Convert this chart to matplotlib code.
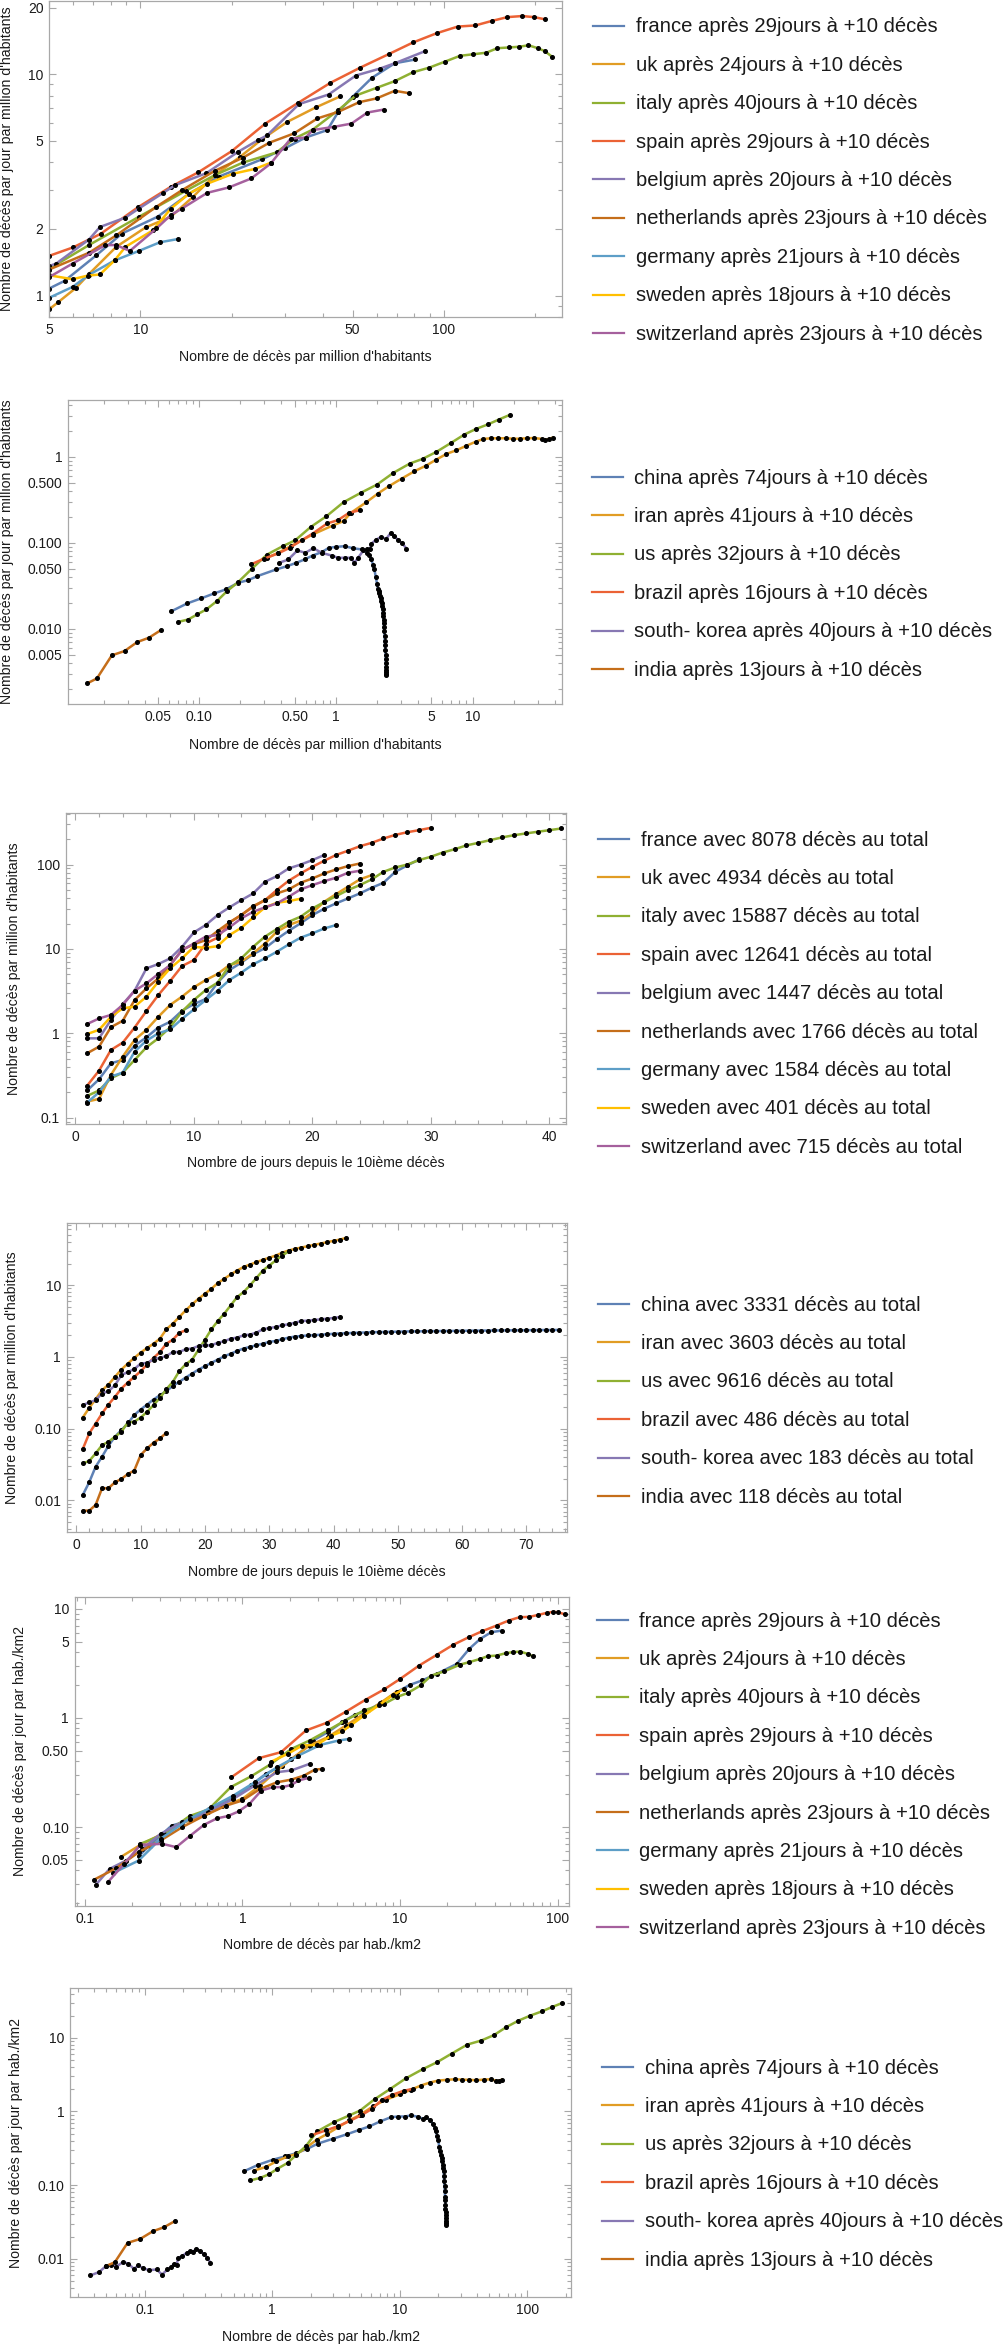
import numpy as np
import matplotlib
matplotlib.use("Agg")
import matplotlib.pyplot as plt
from matplotlib.lines import Line2D
from matplotlib.ticker import FixedLocator, FixedFormatter, LogLocator, NullFormatter, MultipleLocator

plt.rcParams['font.family'] = ['Liberation Sans', 'DejaVu Sans']

# ---------------------------------------------------------------
# data
# ---------------------------------------------------------------
europe = ['france', 'uk', 'italy', 'spain', 'belgium', 'netherlands', 'germany', 'sweden', 'switzerland']
europe_days = [29, 24, 40, 29, 20, 23, 21, 18, 23]
europe_totals = [8078, 4934, 15887, 12641, 1447, 1766, 1584, 401, 715]
europe_colors = ['#5E81B5', '#E19C24', '#8FB032', '#EB6235', '#8778B3', '#C56E1A', '#5D9EC7', '#FFBF00', '#A5609D']

world = ['china', 'iran', 'us', 'brazil', 'south- korea', 'india']
world_days = [74, 41, 32, 16, 40, 13]
world_totals = [3331, 3603, 9616, 486, 183, 118]
world_colors = ['#5E81B5', '#E19C24', '#8FB032', '#EB6235', '#8778B3', '#C56E1A']

# panel 1 : deaths per day per million vs deaths per million (europe)
a_france_x = [5, 5.63, 7.16, 8.69, 11.4, 14.5, 18.1, 25.1, 29.9, 35, 41.3, 44.9, 50, 57.9, 68.9, 80.6]
a_france_y = [1.075, 1.165, 1.52, 1.905, 2.27, 2.89, 3.44, 4.12, 4.62, 5.17, 5.59, 6.76, 7.9, 9.62, 11.2, 11.65]
a_uk_x = [5, 5.36, 6.15, 6.77, 8.33, 10.4, 12.6, 14.9, 17.6, 21.3, 25.1, 30.5, 37.8, 45.5]
a_uk_y = [0.865, 0.933, 1.086, 1.25, 1.66, 2.03, 2.27, 2.79, 3.5, 4.23, 5.07, 6.09, 7.07, 7.93]
a_italy_x = [5, 6.77, 9.9, 14.1, 17.6, 21.8, 28.1, 32.2, 37, 44.9, 51.3, 60, 68.9, 79.1, 89.5, 101, 113,
             125, 138, 150, 164, 177, 190, 204, 215, 227]
a_italy_y = [1.32, 1.69, 2.27, 2.97, 3.5, 3.99, 4.43, 5.12, 5.62, 6.88, 8.01, 8.67, 9.3, 10.2, 10.7, 11.4, 12.1,
             12.3, 12.5, 13.1, 13.2, 13.3, 13.5, 13.1, 12.7, 12.0]
a_spain_x = [5, 6.0, 7.4, 9.8, 12.6, 15.5, 20, 25.8, 33.1, 42.3, 53, 65.7, 79.1, 94.6, 111, 127, 144, 162, 181, 198, 215]
a_spain_y = [1.51, 1.65, 1.9, 2.5, 3.1, 3.6, 4.49, 5.98, 7.42, 9.14, 10.7, 12.3, 13.9, 15.3, 16.4, 16.6, 17.4, 18.1,
             18.3, 18.1, 17.7]
a_belgium_x = [5, 5.28, 6.77, 7.36, 8.93, 9.88, 11.9, 13.0, 16.5, 21, 24.4, 26.2, 33.3, 41.7, 51.3, 61.6, 68.9, 86.7]
a_belgium_y = [1.357, 1.395, 1.79, 2.04, 2.25, 2.47, 2.91, 3.15, 3.57, 4.46, 5.03, 5.3, 7.32, 8.09, 9.86, 10.6, 11.2, 12.7]
a_netherlands_x = [5, 6.77, 8.33, 11.3, 13.7, 17.6, 21.8, 26.6, 32.1, 38.3, 44.9, 52.6, 60, 68.9, 76.9]
a_netherlands_y = [1.31, 1.56, 1.87, 2.52, 2.99, 3.66, 4.2, 4.9, 5.4, 6.31, 6.76, 7.47, 7.77, 8.41, 8.2]
a_germany_x = [5, 5.98, 6.77, 8.22, 9.88, 11.6, 13.3]
a_germany_y = [0.976, 1.094, 1.24, 1.44, 1.59, 1.74, 1.8]
a_sweden_x = [5, 5.98, 6.7, 7.36, 8.22, 8.93, 11, 12.6, 14.5, 16.6, 20.2, 23.8, 26.9]
a_sweden_y = [1.235, 1.185, 1.23, 1.245, 1.44, 1.66, 1.97, 2.47, 2.89, 3.2, 3.55, 3.73, 3.98]
a_switzerland_x = [5, 5.98, 7.67, 8.33, 9.23, 11.3, 12.6, 13.7, 16.6, 19.6, 23.2, 26.9, 31.3, 35, 37, 43.4, 49.6, 56, 63.4]
a_switzerland_y = [1.21, 1.395, 1.69, 1.69, 1.59, 2.01, 2.31, 2.47, 2.91, 3.08, 3.38, 3.95, 5.12, 5.17, 5.59, 5.78,
                   5.98, 6.71, 6.92]

# panel 2 : same for the world
b_china_x = [0.0628, 0.0817, 0.103, 0.129, 0.157, 0.193, 0.229, 0.267, 0.366, 0.44, 0.513, 0.59, 0.676, 0.787, 0.89,
             1.006, 1.158, 1.325, 1.545, 1.69, 1.76, 1.82, 1.87, 1.91, 1.96, 2.0, 2.03, 2.06, 2.08, 2.1, 2.12, 2.14,
             2.16, 2.18, 2.2, 2.21, 2.22, 2.23, 2.24, 2.25, 2.26, 2.27, 2.28, 2.29, 2.3, 2.31, 2.315, 2.32, 2.325,
             2.33, 2.333, 2.336, 2.34]
b_china_y = [0.016, 0.0197, 0.0225, 0.0258, 0.0287, 0.0343, 0.0368, 0.041, 0.049, 0.0535, 0.0585, 0.064, 0.0712,
             0.0779, 0.0875, 0.0898, 0.0914, 0.0867, 0.0837, 0.0765, 0.072, 0.064, 0.055, 0.049, 0.04, 0.033, 0.0292,
             0.0275, 0.0262, 0.024, 0.0229, 0.021, 0.02, 0.0185, 0.017, 0.0153, 0.014, 0.0128, 0.0117, 0.0105,
             0.0095, 0.0082, 0.0072, 0.0064, 0.0057, 0.005, 0.0045, 0.004, 0.0036, 0.0033, 0.0031, 0.003, 0.0029]
b_iran_x = [0.314, 0.378, 0.468, 0.676, 0.946, 1.137, 1.285, 1.67, 2.03, 2.44, 3.03, 3.75, 4.57, 5.42, 6.43, 7.59,
            9.01, 10.6, 12, 13.6, 15.4, 17.4, 19.6, 22.2, 25.1, 28.3, 32, 34, 36.2, 38.5]
b_iran_y = [0.067, 0.0765, 0.0914, 0.125, 0.159, 0.179, 0.223, 0.297, 0.375, 0.456, 0.56, 0.681, 0.793, 0.931,
            1.083, 1.195, 1.35, 1.51, 1.62, 1.65, 1.65, 1.65, 1.63, 1.63, 1.65, 1.66, 1.62, 1.58, 1.62, 1.68]
b_us_x = [0.0701, 0.0832, 0.097, 0.113, 0.135, 0.16, 0.193, 0.243, 0.314, 0.409, 0.504, 0.655, 0.853, 1.137, 1.517,
          2.0, 2.63, 3.47, 4.3, 5.42, 6.92, 8.68, 10.6, 13, 15.5, 18.8]
b_us_y = [0.012, 0.0128, 0.0147, 0.0168, 0.021, 0.0274, 0.0349, 0.0499, 0.0731, 0.0914, 0.107, 0.153, 0.204, 0.297,
          0.381, 0.477, 0.652, 0.837, 0.948, 1.143, 1.45, 1.82, 2.12, 2.4, 2.72, 3.1]
b_brazil_x = [0.239, 0.296, 0.378, 0.459, 0.562, 0.676, 0.863, 1.037, 1.246, 1.5]
b_brazil_y = [0.056, 0.0652, 0.0752, 0.0875, 0.107, 0.128, 0.168, 0.184, 0.223, 0.24]
b_korea_x = [0.385, 0.449, 0.523, 0.598, 0.684, 0.787, 0.929, 1.037, 1.17, 1.285, 1.367, 1.452, 1.59, 1.69, 1.78,
             1.82, 1.97, 2.14, 2.33, 2.52, 2.68, 2.85, 3.03, 3.28]
b_korea_y = [0.0585, 0.064, 0.0815, 0.0765, 0.0867, 0.0765, 0.0712, 0.067, 0.067, 0.067, 0.0585, 0.067, 0.0815,
             0.0851, 0.0837, 0.0982, 0.109, 0.117, 0.111, 0.131, 0.12, 0.107, 0.1, 0.0859]
b_india_x = [0.0152, 0.0179, 0.023, 0.0285, 0.0353, 0.043, 0.0526]
b_india_y = [0.00231, 0.00264, 0.0049, 0.0055, 0.007, 0.00786, 0.00965]

# panel 3 : cumulative deaths per million, one value per day since the 10th death
c_france = [0.21, 0.285, 0.441, 0.483, 0.714, 0.897, 1.17, 1.37, 1.85, 2.22, 2.55, 3.98, 5.62, 6.87, 8.7, 10.2, 13.1,
            16.4, 20.1, 25.2, 30, 34.7, 39.7, 45.5, 53.1, 60.9, 82.2, 97.6, 115]
c_uk = [0.155, 0.167, 0.321, 0.53, 0.834, 1.1, 1.57, 2.17, 2.72, 3.51, 4.28, 5.05, 6.44, 7.06, 8.86, 11.6, 16, 19.2,
        21.6, 26.9, 36.3, 44.7, 54.6, 66.7, 75]
c_italy = [0.181, 0.21, 0.293, 0.342, 0.483, 0.683, 0.872, 1.18, 1.81, 2.48, 3.26, 3.98, 6.33, 7.73, 10.6, 14, 17.2,
           21, 24.1, 30.2, 35.9, 42.3, 49.9, 57.1, 66.7, 82.2, 92.5, 100, 113, 124, 139, 152, 169, 181, 195, 210,
           223, 234, 245, 256, 268]
c_spain = [0.24, 0.361, 0.635, 0.775, 1.17, 1.84, 2.84, 4.17, 6.27, 7.38, 11.6, 13.6, 20.6, 25.2, 31.6, 37.9, 49.9,
           64.3, 78.5, 94.2, 111, 130, 146, 165, 181, 204, 225, 242, 256, 273]
c_belgium = [0.872, 0.872, 1.44, 2.22, 3.2, 5.89, 6.62, 7.73, 10.6, 15.7, 19.2, 25.2, 31.1, 37.9, 45.5, 62.5, 73, 90,
             100, 113, 130]
c_netherlands = [0.58, 0.695, 1.18, 1.41, 2.48, 3.41, 4.48, 6.44, 9.7, 11.4, 12.7, 16.3, 20.6, 25.2, 32.2, 37.9,
                 45.5, 50.7, 60.9, 68.5, 78.5, 87.6, 95.9, 103]
c_germany = [0.151, 0.2, 0.307, 0.342, 0.607, 0.819, 1.0, 1.11, 1.48, 1.92, 2.48, 3.2, 4.28, 5.23, 6.56, 7.73, 9.27,
             11.3, 13.6, 15.3, 17.5, 19.2]
c_sweden = [0.98, 1.1, 1.57, 1.98, 2.07, 2.72, 4.09, 5.89, 7.73, 10.6, 10.3, 10.8, 14.6, 17.8, 23.6, 31.1, 35.3,
            36.9, 39.4]
c_switzerland = [1.29, 1.5, 1.65, 2.17, 3.2, 3.91, 5.05, 6.44, 9.7, 11.6, 14, 14.6, 18, 23, 27.6, 31.1, 34.7, 41.6,
                 50.7, 57.1, 63.7, 69.8, 80, 84.5]

# panel 4 : cumulative deaths per million, world
d_china = [0.0119, 0.0179, 0.0295, 0.0407, 0.0578, 0.0771, 0.0955, 0.118, 0.155, 0.185, 0.217, 0.255, 0.293, 0.333,
           0.395, 0.449, 0.516, 0.586, 0.667, 0.742, 0.826, 0.918, 1.02, 1.11, 1.21, 1.31, 1.38, 1.45, 1.53, 1.62,
           1.67, 1.76, 1.86, 1.92, 1.96, 1.99, 2.01, 2.04, 2.07, 2.1, 2.12, 2.14, 2.16, 2.18, 2.19, 2.21, 2.22, 2.23,
           2.24, 2.25, 2.26, 2.27, 2.27, 2.28, 2.29, 2.29, 2.3, 2.3, 2.31, 2.31, 2.32, 2.32, 2.33, 2.33, 2.34, 2.34,
           2.35, 2.35, 2.35, 2.36, 2.36, 2.37, 2.37, 2.37, 2.38]
d_iran = [0.143, 0.195, 0.258, 0.344, 0.412, 0.527, 0.667, 0.808, 0.969, 1.15, 1.33, 1.53, 1.8, 2.43, 2.91, 3.6, 4.46,
          5.4, 6.47, 7.6, 8.92, 10.7, 12.3, 14.1, 16.0, 17.9, 19.4, 20.9, 22.6, 24.1, 25.9, 28.3, 30.4, 32.1, 33.5,
          35, 36.5, 38.1, 39.8, 41.5, 43.3, 45.7]
d_us = [0.0328, 0.0354, 0.0453, 0.059, 0.0657, 0.0771, 0.0906, 0.122, 0.125, 0.143, 0.172, 0.213, 0.269, 0.355,
        0.449, 0.632, 0.791, 0.918, 1.26, 1.74, 2.43, 3.17, 4.01, 5.23, 6.83, 8.02, 9.93, 12.6, 16, 18.8, 22.1, 25.9,
        29.5]
d_brazil = [0.052, 0.0859, 0.118, 0.163, 0.217, 0.278, 0.363, 0.44, 0.527, 0.632, 0.782, 0.969, 1.17, 1.53, 1.74,
            2.16, 2.35]
d_korea = [0.213, 0.232, 0.25, 0.309, 0.333, 0.404, 0.556, 0.618, 0.674, 0.808, 0.825, 0.918, 0.969, 1.03, 1.17,
           1.17, 1.28, 1.31, 1.42, 1.45, 1.45, 1.58, 1.65, 1.8, 1.86, 2.0, 2.05, 2.18, 2.43, 2.53, 2.61, 2.76, 2.85,
           3.0, 3.17, 3.2, 3.27, 3.34, 3.41, 3.49, 3.6]
d_india = [0.0072, 0.0072, 0.00865, 0.0148, 0.0148, 0.0179, 0.0199, 0.0233, 0.026, 0.0429, 0.0531, 0.0637, 0.0732,
           0.0877]

# panel 5 : deaths per day per hab./km2 vs deaths per hab./km2 (europe)
e_france_x = [0.22, 0.258, 0.356, 0.463, 0.637, 0.876, 1.14, 1.41, 1.79, 2.22, 2.81, 3.48, 4.3, 5.18, 6.24, 7.71,
              9.53, 11.5, 13.8, 17.1, 22.9, 27.5, 32.3, 37.9, 44.4]
e_france_y = [0.054, 0.0677, 0.103, 0.115, 0.147, 0.184, 0.243, 0.307, 0.366, 0.452, 0.62, 0.739, 0.913, 1.07, 1.17,
              1.39, 1.72, 2.0, 2.2, 2.53, 3.12, 4.29, 5.29, 6.09, 6.31]
e_uk_x = [0.169, 0.226, 0.311, 0.417, 0.573, 0.747, 1.0, 1.3, 1.66, 2.05, 2.67, 3.48, 4.54, 5.91, 7.51, 9.53]
e_uk_y = [0.053, 0.0687, 0.0866, 0.109, 0.127, 0.155, 0.181, 0.24, 0.33, 0.421, 0.558, 0.665, 0.851, 1.09, 1.37, 1.74]
e_italy_x = [0.226, 0.32, 0.463, 0.611, 0.844, 1.14, 1.49, 2.05, 2.67, 3.48, 4.49, 5.91, 7.92, 9.53, 11.2, 13.5,
             15.8, 19, 24.1, 27.5, 32.3, 35.9, 41, 46.8, 52.1, 57.9, 64.4, 69.7]
e_italy_y = [0.0701, 0.0866, 0.126, 0.145, 0.232, 0.292, 0.371, 0.52, 0.62, 0.766, 0.945, 1.17, 1.34, 1.55, 1.69,
             1.98, 2.44, 2.66, 3.08, 3.24, 3.47, 3.67, 3.72, 3.91, 4.0, 4.05, 3.86, 3.67]
e_spain_x = [0.853, 1.27, 1.76, 2.53, 3.42, 4.54, 6.07, 7.92, 10.05, 13.2, 17.1, 21.7, 27.3, 33.2, 41, 48.9, 57.3,
             66.1, 75.5, 85.3, 93.3, 100, 111]
e_spain_y = [0.286, 0.427, 0.485, 0.766, 0.9, 1.14, 1.47, 1.82, 2.28, 3.01, 3.78, 4.66, 5.48, 6.22, 7.01, 7.79, 8.36,
             8.42, 8.78, 9.16, 9.35, 9.28, 8.9]
e_belgium_x = [0.118, 0.144, 0.183, 0.232, 0.303, 0.417, 0.604, 0.876, 1.2, 1.66, 2.05, 2.67]
e_belgium_y = [0.0297, 0.0414, 0.0493, 0.063, 0.0866, 0.111, 0.137, 0.181, 0.24, 0.318, 0.33, 0.379]
e_netherlands_x = [0.115, 0.159, 0.22, 0.303, 0.417, 0.573, 0.788, 1.0, 1.3, 1.66, 2.05, 2.46, 2.89, 3.21]
e_netherlands_y = [0.033, 0.042, 0.0588, 0.0752, 0.1, 0.127, 0.157, 0.175, 0.224, 0.257, 0.272, 0.296, 0.336, 0.34]
e_germany_x = [0.152, 0.22, 0.303, 0.463, 0.637, 0.876, 1.2, 1.66, 2.27, 3.13, 4.08, 4.78]
e_germany_y = [0.038, 0.0493, 0.078, 0.119, 0.152, 0.194, 0.257, 0.353, 0.452, 0.566, 0.62, 0.642]
e_sweden_x = [1.53, 1.94, 2.4, 2.97, 3.67, 4.3, 4.91, 5.91, 7.31, 9.04, 10.6]
e_sweden_y = [0.398, 0.468, 0.558, 0.566, 0.689, 0.75, 0.863, 1.05, 1.3, 1.62, 1.84]
e_switzerland_x = [0.1405, 0.178, 0.226, 0.311, 0.381, 0.463, 0.573, 0.69, 0.809, 0.948, 1.11, 1.32, 1.57, 1.79,
                   2.05, 2.27, 2.64]
e_switzerland_y = [0.0313, 0.046, 0.0687, 0.0701, 0.0654, 0.0824, 0.105, 0.12, 0.126, 0.139, 0.163, 0.216, 0.232,
                   0.232, 0.243, 0.267, 0.282]

# panel 6 : same for the world
f_china_x = [0.6, 0.779, 1.01, 1.26, 1.55, 1.89, 2.27, 2.99, 3.89, 4.83, 5.76, 7.02, 8.55, 9.75, 10.9, 12.3, 14,
             15.1, 16.1, 17.2, 18.2, 18.8, 19.2, 19.6, 20.0, 20.4, 20.7, 21.0, 21.3, 21.5, 21.7, 21.9, 22.1, 22.2,
             22.3, 22.45, 22.55, 22.65, 22.72, 22.78, 22.83, 22.88, 22.92, 22.96, 22.98, 23.0, 23.02]
f_china_y = [0.154, 0.189, 0.221, 0.245, 0.272, 0.312, 0.365, 0.426, 0.493, 0.564, 0.626, 0.732, 0.838, 0.855, 0.855,
             0.883, 0.847, 0.795, 0.829, 0.771, 0.673, 0.6, 0.536, 0.47, 0.413, 0.33, 0.287, 0.26, 0.233, 0.21, 0.189,
             0.17, 0.154, 0.135, 0.112, 0.097, 0.082, 0.07, 0.062, 0.054, 0.048, 0.043, 0.039, 0.0358, 0.033, 0.031,
             0.0291]
f_iran_x = [0.716, 0.889, 1.08, 1.32, 1.55, 1.83, 2.23, 2.71, 3.3, 4.02, 4.89, 6.15, 7.74, 10.1, 12.2, 14.6, 17.2, 20,
            23.3, 26.9, 30.7, 35, 39.9, 45.5, 51.9, 57.3, 59.9, 63.1]
f_iran_y = [0.157, 0.176, 0.21, 0.245, 0.264, 0.318, 0.413, 0.498, 0.613, 0.755, 0.901, 1.17, 1.44, 1.72, 1.97, 2.25,
            2.47, 2.63, 2.69, 2.74, 2.71, 2.69, 2.66, 2.71, 2.74, 2.6, 2.6, 2.71]
f_us_x = [0.675, 0.805, 0.949, 1.1, 1.32, 1.55, 1.83, 2.25, 3.05, 4.02, 4.89, 6.36, 8.37, 11.2, 15.1, 19.6, 25.5,
          33.9, 43.5, 54.7, 68.4, 84.9, 105, 130, 156, 187]
f_us_y = [0.116, 0.125, 0.141, 0.167, 0.2, 0.259, 0.336, 0.536, 0.717, 0.883, 1.03, 1.47, 2.01, 2.83, 3.75, 4.67,
          6.11, 8.12, 9.2, 10.9, 14, 17.1, 20, 22.9, 26.2, 29.7]
f_brazil_x = [2.02, 2.62, 3.3, 4.07, 5.05, 6.03, 7.25, 8.71, 10.7, 12.7]
f_brazil_y = [0.473, 0.552, 0.633, 0.747, 0.901, 1.08, 1.44, 1.68, 1.91, 2.03]
f_korea_x = [0.0376, 0.044, 0.0496, 0.0547, 0.0596, 0.0675, 0.0744, 0.0822, 0.0895, 0.0975, 0.109, 0.124, 0.137,
             0.151, 0.161, 0.17, 0.178, 0.184, 0.196, 0.213, 0.227, 0.239, 0.255, 0.273, 0.291, 0.311, 0.328]
f_korea_y = [0.00594, 0.00659, 0.00792, 0.00834, 0.00776, 0.00897, 0.00861, 0.0073, 0.00809, 0.00737, 0.007,
             0.00714, 0.0061, 0.00714, 0.00768, 0.00852, 0.00834, 0.0103, 0.0108, 0.012, 0.0126, 0.0124, 0.0137,
             0.0126, 0.0116, 0.0103, 0.0088]
f_india_x = [0.0496, 0.0584, 0.0735, 0.0925, 0.116, 0.142, 0.172]
f_india_y = [0.00792, 0.00897, 0.0164, 0.0186, 0.0236, 0.0268, 0.0323]

# ---------------------------------------------------------------
# figure helpers
# ---------------------------------------------------------------
W, H = 1006, 2345
fig = plt.figure(figsize=(W / 100, H / 100), dpi=100)

FRAME = '#a8a8a8'
TXT = '#1a1a1a'


def make_axes(l, r, t, b):
    ax = fig.add_axes([l / W, 1 - b / H, (r - l) / W, (b - t) / H])
    for s in ax.spines.values():
        s.set_color(FRAME)
        s.set_linewidth(0.9)
    return ax


def finish(ax, box, xlab, ylab, xlab_y, ylab_x):
    l, r, t, b = box
    ax.tick_params(which='both', direction='in', top=True, right=True, color=FRAME,
                   labelsize=10, labelcolor=TXT, pad=4, width=0.8)
    ax.tick_params(which='major', length=5)
    ax.tick_params(which='minor', length=2.6)
    ax.set_xlabel(xlab, fontsize=10.2, color=TXT)
    ax.set_ylabel(ylab, fontsize=10.2, color=TXT)
    ax.xaxis.set_label_coords(0.5, (b - xlab_y) / (b - t))
    ax.xaxis.label.set_va('center')
    ax.yaxis.set_label_coords((ylab_x - l) / (r - l), 0.5)
    ax.yaxis.label.set_va('center')


def log_ticks(axis, values, labels):
    axis.set_major_locator(FixedLocator(values))
    axis.set_major_formatter(FixedFormatter(labels))
    axis.set_minor_locator(LogLocator(base=10, subs=np.arange(2, 10), numticks=50))
    axis.set_minor_formatter(NullFormatter())


def draw(ax, x, y, color):
    ax.plot(x, y, color=color, lw=1.8, solid_joinstyle='round', solid_capstyle='round')
    ax.plot(x, y, ls='none', marker='o', ms=2.6, color='black')


def legend(labels, colors, y0, xl, xt):
    for i, (lab, col) in enumerate(zip(labels, colors)):
        y = y0 + i * 38.4
        fig.add_artist(Line2D([xl / W, (xl + 31) / W], [1 - y / H, 1 - y / H], color=col, lw=1.6))
        fig.text(xt / W, 1 - (y + 6.6) / H, lab, fontsize=14.6, color=TXT, va='baseline', ha='left')


apres_eu = [f"{c} après {d}jours à +10 décès" for c, d in zip(europe, europe_days)]
apres_w = [f"{c} après {d}jours à +10 décès" for c, d in zip(world, world_days)]
total_eu = [f"{c} avec {n} décès au total" for c, n in zip(europe, europe_totals)]
total_w = [f"{c} avec {n} décès au total" for c, n in zip(world, world_totals)]

lab_rate_pm = "Nombre de décès par jour par million d'habitants"
lab_pm = "Nombre de décès par million d'habitants"
lab_days = "Nombre de jours depuis le 10ième décès"
lab_rate_km = "Nombre de décès par jour par hab./km2"
lab_km = "Nombre de décès par hab./km2"

# ---------------------------------------------------------------
# panel 1
# ---------------------------------------------------------------
box = (49, 562, 1, 317)
ax = make_axes(*box)
ax.set_xscale('log')
ax.set_yscale('log')
for x, y, col in zip([a_france_x, a_uk_x, a_italy_x, a_spain_x, a_belgium_x, a_netherlands_x, a_germany_x,
                      a_sweden_x, a_switzerland_x],
                     [a_france_y, a_uk_y, a_italy_y, a_spain_y, a_belgium_y, a_netherlands_y, a_germany_y,
                      a_sweden_y, a_switzerland_y], europe_colors):
    draw(ax, x, y, col)
ax.set_xlim(5, 245)
ax.set_ylim(0.8, 21.4)
log_ticks(ax.xaxis, [5, 10, 50, 100], ['5', '10', '50', '100'])
log_ticks(ax.yaxis, [1, 2, 5, 10, 20], ['1', '2', '5', '10', '20'])
finish(ax, box, lab_pm, lab_rate_pm, 357, 7)
legend(apres_eu, europe_colors, 25.7, 593, 636)

# ---------------------------------------------------------------
# panel 2
# ---------------------------------------------------------------
box = (68, 562, 400, 704)
ax = make_axes(*box)
ax.set_xscale('log')
ax.set_yscale('log')
for x, y, col in zip([b_china_x, b_iran_x, b_us_x, b_brazil_x, b_korea_x, b_india_x],
                     [b_china_y, b_iran_y, b_us_y, b_brazil_y, b_korea_y, b_india_y], world_colors):
    draw(ax, x, y, col)
ax.set_xlim(0.011, 45)
ax.set_ylim(0.00133, 4.6)
log_ticks(ax.xaxis, [0.05, 0.1, 0.5, 1, 5, 10], ['0.05', '0.10', '0.50', '1', '5', '10'])
log_ticks(ax.yaxis, [0.005, 0.01, 0.05, 0.1, 0.5, 1], ['0.005', '0.010', '0.050', '0.100', '0.500', '1'])
finish(ax, box, lab_pm, lab_rate_pm, 745, 7)
legend(apres_w, world_colors, 477, 592, 634)

# ---------------------------------------------------------------
# panel 3
# ---------------------------------------------------------------
box = (65.5, 566, 813, 1124)
ax = make_axes(*box)
ax.set_yscale('log')
for y, col in zip([c_france, c_uk, c_italy, c_spain, c_belgium, c_netherlands, c_germany, c_sweden, c_switzerland],
                  europe_colors):
    draw(ax, np.arange(1, len(y) + 1), y, col)
ax.set_xlim(-0.83, 41.4)
ax.set_ylim(0.0841, 409)
ax.xaxis.set_major_locator(FixedLocator([0, 10, 20, 30, 40]))
ax.xaxis.set_minor_locator(MultipleLocator(2))
log_ticks(ax.yaxis, [0.1, 1, 10, 100], ['0.1', '1', '10', '100'])
finish(ax, box, lab_days, lab_pm, 1163, 14.5)
legend(total_eu, europe_colors, 839, 598, 641)

# ---------------------------------------------------------------
# panel 4
# ---------------------------------------------------------------
box = (66.5, 567, 1223, 1532)
ax = make_axes(*box)
ax.set_yscale('log')
for y, col in zip([d_china, d_iran, d_us, d_brazil, d_korea, d_india], world_colors):
    draw(ax, np.arange(1, len(y) + 1), y, col)
ax.set_xlim(-1.53, 76.3)
ax.set_ylim(0.00363, 73.6)
ax.xaxis.set_major_locator(FixedLocator([0, 10, 20, 30, 40, 50, 60, 70]))
ax.xaxis.set_minor_locator(MultipleLocator(2))
log_ticks(ax.yaxis, [0.01, 0.1, 1, 10], ['0.01', '0.10', '1', '10'])
finish(ax, box, lab_days, lab_pm, 1572, 12)
legend(total_w, world_colors, 1304, 598, 641)

# ---------------------------------------------------------------
# panel 5
# ---------------------------------------------------------------
box = (74.5, 569, 1597, 1906)
ax = make_axes(*box)
ax.set_xscale('log')
ax.set_yscale('log')
for x, y, col in zip([e_france_x, e_uk_x, e_italy_x, e_spain_x, e_belgium_x, e_netherlands_x, e_germany_x,
                      e_sweden_x, e_switzerland_x],
                     [e_france_y, e_uk_y, e_italy_y, e_spain_y, e_belgium_y, e_netherlands_y, e_germany_y,
                      e_sweden_y, e_switzerland_y], europe_colors):
    draw(ax, x, y, col)
ax.set_xlim(0.0862, 118)
ax.set_ylim(0.0189, 12.8)
log_ticks(ax.xaxis, [0.1, 1, 10, 100], ['0.1', '1', '10', '100'])
log_ticks(ax.yaxis, [0.05, 0.1, 0.5, 1, 5, 10], ['0.05', '0.10', '0.50', '1', '5', '10'])
finish(ax, box, lab_km, lab_rate_km, 1945, 19.6)
legend(apres_eu, europe_colors, 1620, 597, 639)

# ---------------------------------------------------------------
# panel 6
# ---------------------------------------------------------------
box = (70, 571, 1988, 2297)
ax = make_axes(*box)
ax.set_xscale('log')
ax.set_yscale('log')
for x, y, col in zip([f_china_x, f_iran_x, f_us_x, f_brazil_x, f_korea_x, f_india_x],
                     [f_china_y, f_iran_y, f_us_y, f_brazil_y, f_korea_y, f_india_y], world_colors):
    draw(ax, x, y, col)
ax.set_xlim(0.026, 220)
ax.set_ylim(0.00302, 47.6)
log_ticks(ax.xaxis, [0.1, 1, 10, 100], ['0.1', '1', '10', '100'])
log_ticks(ax.yaxis, [0.01, 0.1, 1, 10], ['0.01', '0.10', '1', '10'])
finish(ax, box, lab_km, lab_rate_km, 2337, 16)
legend(apres_w, world_colors, 2067, 602, 645)

fig.savefig('out.png', dpi=100)
